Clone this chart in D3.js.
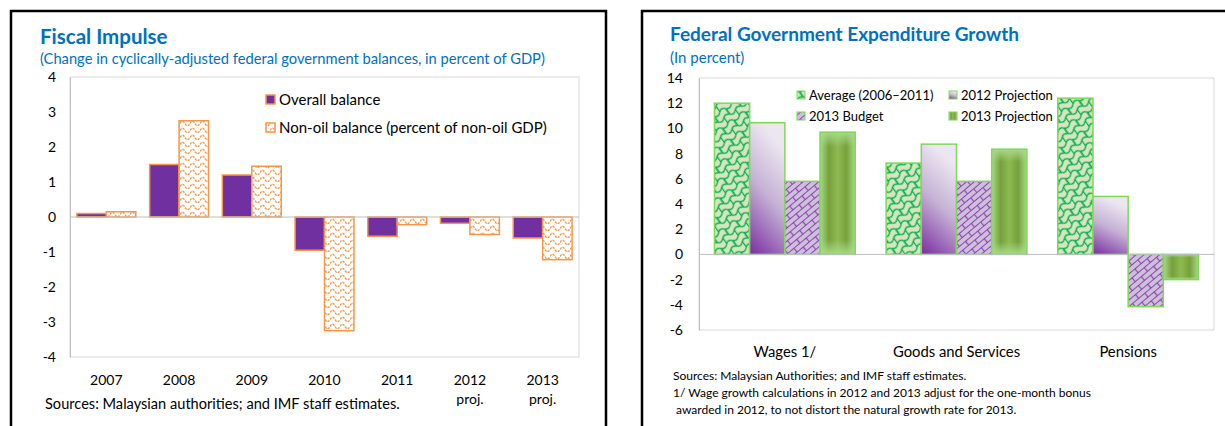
<!DOCTYPE html>
<html>
<head>
<meta charset="utf-8">
<script src="https://cdn.jsdelivr.net/npm/d3@7"></script>
<style>
  body { margin: 0; background: #fff; }
  svg text { font-family: Lato, "Open Sans", sans-serif; }
</style>
</head>
<body>
<svg id="chart" width="1225" height="426"></svg>
<script>
// Fiscal impulse (left)
const years = ["2007", "2008", "2009", "2010", "2011", "2012", "2013"];
const yearSub = ["", "", "", "", "", "proj.", "proj."];
const overallBalance = [0.1, 1.5, 1.2, -0.95, -0.55, -0.18, -0.6];
const nonOilBalance = [0.15, 2.75, 1.45, -3.25, -0.22, -0.5, -1.22];
const fiscalTicks = [4, 3, 2, 1, 0, -1, -2, -3, -4];

// Expenditure growth (right)
const spendCats = ["Wages 1/", "Goods and Services", "Pensions"];
const spendSeries = ["Average (2006\u20132011)", "2012 Projection", "2013 Budget", "2013 Projection"];
const avg0611 = [12.0, 7.25, 12.4];
const proj2012 = [10.45, 8.75, 4.6];
const budget2013 = [5.8, 5.8, -4.15];
const proj2013 = [9.7, 8.35, -2.0];
const spendTicks = [14, 12, 10, 8, 6, 4, 2, 0, -2, -4, -6];

const svg = d3.select('#chart');
const defs = svg.append('defs');
const hyphen = d => String(d);  // plain hyphen minus like the original

// ---- patterns / gradients ----
let wave = defs.append('pattern').attr('id', 'wave')
    .attr('patternUnits', 'userSpaceOnUse').attr('width', 10).attr('height', 7);
wave.append('rect').attr('width', 10).attr('height', 7).attr('fill', '#fff');
wave.append('path').attr('d', 'M0,4.5 Q2.5,0 5,4.5 T10,4.5')
    .attr('fill', 'none').attr('stroke', '#F79646').attr('stroke-width', 1.3)
    .attr('stroke-dasharray', '2.5,1');

// wavy bricks, tilted, to look like the interlocking shingles
let shingle = defs.append('pattern').attr('id', 'shingle')
    .attr('patternUnits', 'userSpaceOnUse').attr('width', 14).attr('height', 14)
    .attr('patternTransform', 'rotate(-35)');
shingle.append('rect').attr('width', 14).attr('height', 14).attr('fill', '#D7E4BD');
shingle.append('path')
    .attr('d', 'M0,1 Q3.5,4.5 7,1 T14,1 M0,8 Q3.5,11.5 7,8 T14,8 M0,15 Q3.5,18.5 7,15 T14,15 '
        + 'M0.6,1 V8 M14,1 V8 M7.6,8 V15')
    .attr('fill', 'none').attr('stroke', '#00B050').attr('stroke-width', 1.2);

let brick = defs.append('pattern').attr('id', 'brick')
    .attr('patternUnits', 'userSpaceOnUse').attr('width', 16).attr('height', 10)
    .attr('patternTransform', 'rotate(-40)');
brick.append('rect').attr('width', 16).attr('height', 10).attr('fill', '#CCC0DA');
brick.append('path').attr('d', 'M0,0.5 H16 M0,5.5 H16 M0.5,0.5 V5.5 M8.5,5.5 V10.5')
    .attr('fill', 'none').attr('stroke', '#8E44B0').attr('stroke-width', 1.2);

let purpleGrad = defs.append('linearGradient').attr('id', 'purpleGrad')
    .attr('x1', 0.3).attr('y1', 0).attr('x2', 0).attr('y2', 1);
purpleGrad.append('stop').attr('offset', '0%').attr('stop-color', '#ECE6F1');
purpleGrad.append('stop').attr('offset', '45%').attr('stop-color', '#C5B1D5');
purpleGrad.append('stop').attr('offset', '100%').attr('stop-color', '#7A2DA2');

let greenH = defs.append('linearGradient').attr('id', 'greenH')
    .attr('x1', 0).attr('y1', 0).attr('x2', 1).attr('y2', 0);
[['0%', '#A8D98A'], ['25%', '#76A03A'], ['50%', '#8DBB52'], ['75%', '#76A03A'], ['100%', '#A8D98A']]
    .forEach(s => greenH.append('stop').attr('offset', s[0]).attr('stop-color', s[1]));
let greenV = defs.append('linearGradient').attr('id', 'greenV')
    .attr('x1', 0).attr('y1', 0).attr('x2', 0).attr('y2', 1);
[['0%', '#A8D98A', 1], ['12%', '#A8D98A', 0], ['88%', '#A8D98A', 0], ['100%', '#A8D98A', 1]]
    .forEach(s => greenV.append('stop').attr('offset', s[0]).attr('stop-color', s[1]).attr('stop-opacity', s[2]));

// ---- panel frames ----
svg.append('path').attr('d', 'M11,426 V11 H606 V426')
    .attr('fill', 'none').attr('stroke', '#000').attr('stroke-width', 2.5);
svg.append('path').attr('d', 'M642,426 V11 H1226')
    .attr('fill', 'none').attr('stroke', '#000').attr('stroke-width', 2.5);

// ================= LEFT CHART =================
const L = { left: 70, right: 579, top: 77, bottom: 357 };
const xL = d3.scaleBand().domain(years).range([L.left, L.right])
    .paddingInner(0.19).paddingOuter(0.095);
const xLin = d3.scaleBand().domain([0, 1]).range([0, xL.bandwidth()]);
const yL = d3.scaleLinear().domain([-4, 4]).range([L.bottom, L.top]);

svg.append('text').attr('x', 40).attr('y', 44)
    .attr('font-size', 20.5).attr('font-weight', 'bold').attr('fill', '#0070C0')
    .text('Fiscal Impulse');
svg.append('text').attr('x', 40).attr('y', 64)
    .attr('font-size', 14.7).attr('fill', '#0070C0')
    .text('(Change in cyclically-adjusted federal government balances, in percent of GDP)');

svg.append('rect').attr('x', L.left).attr('y', L.top)
    .attr('width', L.right - L.left).attr('height', L.bottom - L.top)
    .attr('fill', 'none').attr('stroke', '#D9D9D9');

let yAxisL = svg.append('g').attr('class', 'axis axis-y')
    .attr('transform', `translate(${L.left}, 0)`)
    .call(d3.axisLeft(yL).tickValues(fiscalTicks).tickSize(0).tickPadding(14).tickFormat(hyphen));
yAxisL.select('.domain').attr('stroke', '#BFBFBF');
yAxisL.selectAll('text').attr('font-size', 14).attr('fill', '#000')
    .attr('font-family', 'Lato, sans-serif');

let barsL = svg.append('g').attr('class', 'bars');
[overallBalance, nonOilBalance].forEach((series, s) => {
    barsL.selectAll('.bar-' + s).data(series).enter()
        .append('rect')
        .attr('class', 'bar-' + s)
        .attr('x', (d, i) => xL(years[i]) + xLin(s))
        .attr('y', d => yL(Math.max(0, d)))
        .attr('width', xLin.bandwidth())
        .attr('height', d => Math.abs(yL(d) - yL(0)))
        .attr('fill', s === 0 ? '#7030A0' : 'url(#wave)')
        .attr('stroke', '#F79646').attr('stroke-width', 1.5);
});

svg.append('line').attr('x1', L.left).attr('x2', L.right)
    .attr('y1', yL(0)).attr('y2', yL(0)).attr('stroke', '#BFBFBF');

let xAxisL = svg.append('g').attr('class', 'axis axis-x');
xAxisL.selectAll('.yr').data(years).enter().append('text')
    .attr('x', d => xL(d) + xL.bandwidth() / 2).attr('y', 385)
    .attr('text-anchor', 'middle').attr('font-size', 14).text(d => d);
xAxisL.selectAll('.sub').data(yearSub).enter().append('text')
    .attr('x', (d, i) => xL(years[i]) + xL.bandwidth() / 2).attr('y', 404)
    .attr('text-anchor', 'middle').attr('font-size', 14).text(d => d);

let legL = svg.append('g').attr('class', 'legend');
['Overall balance', 'Non-oil balance (percent of non-oil GDP)'].forEach((name, i) => {
    let gy = 100 + i * 28;
    legL.append('rect').attr('x', 266).attr('y', gy - 5).attr('width', 9).attr('height', 9)
        .attr('fill', i === 0 ? '#7030A0' : 'url(#wave)')
        .attr('stroke', '#F79646').attr('stroke-width', 1.5);
    legL.append('text').attr('x', 279).attr('y', gy + 5).attr('font-size', 15).text(name);
});

svg.append('text').attr('x', 45).attr('y', 409).attr('font-size', 14.6)
    .text('Sources: Malaysian authorities; and IMF staff estimates.');

// ================= RIGHT CHART =================
const R = { left: 699, right: 1214, top: 78, bottom: 330 };
const xR = d3.scaleBand().domain(spendCats).range([R.left, R.right])
    .paddingInner(0.18).paddingOuter(0.09);
const xRin = d3.scaleBand().domain(d3.range(4)).range([0, xR.bandwidth()]);
const yR = d3.scaleLinear().domain([-6, 14]).range([R.bottom, R.top]);

svg.append('text').attr('x', 670).attr('y', 41)
    .attr('font-size', 19).attr('font-weight', 'bold').attr('fill', '#0070C0')
    .text('Federal Government Expenditure Growth');
svg.append('text').attr('x', 670).attr('y', 63)
    .attr('font-size', 15).attr('fill', '#0070C0')
    .text('(In percent)');

svg.append('rect').attr('x', R.left).attr('y', R.top)
    .attr('width', R.right - R.left).attr('height', R.bottom - R.top)
    .attr('fill', 'none').attr('stroke', '#D9D9D9');

let yAxisR = svg.append('g').attr('class', 'axis axis-y')
    .attr('transform', `translate(${R.left}, 0)`)
    .call(d3.axisLeft(yR).tickValues(spendTicks).tickSize(0).tickPadding(16).tickFormat(hyphen));
yAxisR.select('.domain').attr('stroke', '#BFBFBF');
yAxisR.selectAll('text').attr('font-size', 14).attr('fill', '#000')
    .attr('font-family', 'Lato, sans-serif');

const spendFills = ['url(#shingle)', 'url(#purpleGrad)', 'url(#brick)', 'url(#greenH)'];
let barsR = svg.append('g').attr('class', 'bars');
[avg0611, proj2012, budget2013, proj2013].forEach((series, s) => {
    let sel = barsR.selectAll('.sbar-' + s).data(series).enter();
    sel.append('rect')
        .attr('class', 'sbar-' + s)
        .attr('x', (d, i) => xR(spendCats[i]) + xRin(s))
        .attr('y', d => yR(Math.max(0, d)))
        .attr('width', xRin.bandwidth())
        .attr('height', d => Math.abs(yR(d) - yR(0)))
        .attr('fill', spendFills[s]);
    if (s === 3) {
        sel.append('rect')
            .attr('x', (d, i) => xR(spendCats[i]) + xRin(s))
            .attr('y', d => yR(Math.max(0, d)))
            .attr('width', xRin.bandwidth())
            .attr('height', d => Math.abs(yR(d) - yR(0)))
            .attr('fill', 'url(#greenV)');
    }
    barsR.selectAll('.sout-' + s).data(series).enter()
        .append('rect')
        .attr('x', (d, i) => xR(spendCats[i]) + xRin(s))
        .attr('y', d => yR(Math.max(0, d)))
        .attr('width', xRin.bandwidth())
        .attr('height', d => Math.abs(yR(d) - yR(0)))
        .attr('fill', 'none').attr('stroke', '#7ED957').attr('stroke-width', 1.5);
});

svg.append('line').attr('x1', R.left).attr('x2', R.right)
    .attr('y1', yR(0)).attr('y2', yR(0)).attr('stroke', '#BFBFBF');

svg.append('g').attr('class', 'axis axis-x').selectAll('text').data(spendCats).enter()
    .append('text')
    .attr('x', d => xR(d) + xR.bandwidth() / 2).attr('y', 357)
    .attr('text-anchor', 'middle').attr('font-size', 14.8).text(d => d);

// legend: two columns
const legOrder = [0, 2, 1, 3];
let legR = svg.append('g').attr('class', 'legend');
legOrder.forEach((s, k) => {
    let col = k < 2 ? 0 : 1, row = k % 2;
    let lx = 797 + col * 152, ly = 95 + row * 21;
    legR.append('rect').attr('x', lx).attr('y', ly - 4).attr('width', 8).attr('height', 8)
        .attr('fill', spendFills[s]).attr('stroke', '#7ED957').attr('stroke-width', 1);
    legR.append('text').attr('x', lx + 12).attr('y', ly + 4.5).attr('font-size', 13)
        .text(spendSeries[s]);
});

const notes = [
    'Sources: Malaysian Authorities; and IMF staff estimates.',
    '1/ Wage growth calculations in 2012 and 2013 adjust for the one-month bonus',
    ' awarded in 2012, to not distort the natural growth rate for 2013.'
];
svg.append('g').selectAll('text').data(notes).enter().append('text')
    .attr('x', 673).attr('y', (d, i) => 380 + i * 17)
    .attr('font-size', 12).attr('xml:space', 'preserve').style('white-space', 'pre')
    .text(d => d);
</script>
</body>
</html>
